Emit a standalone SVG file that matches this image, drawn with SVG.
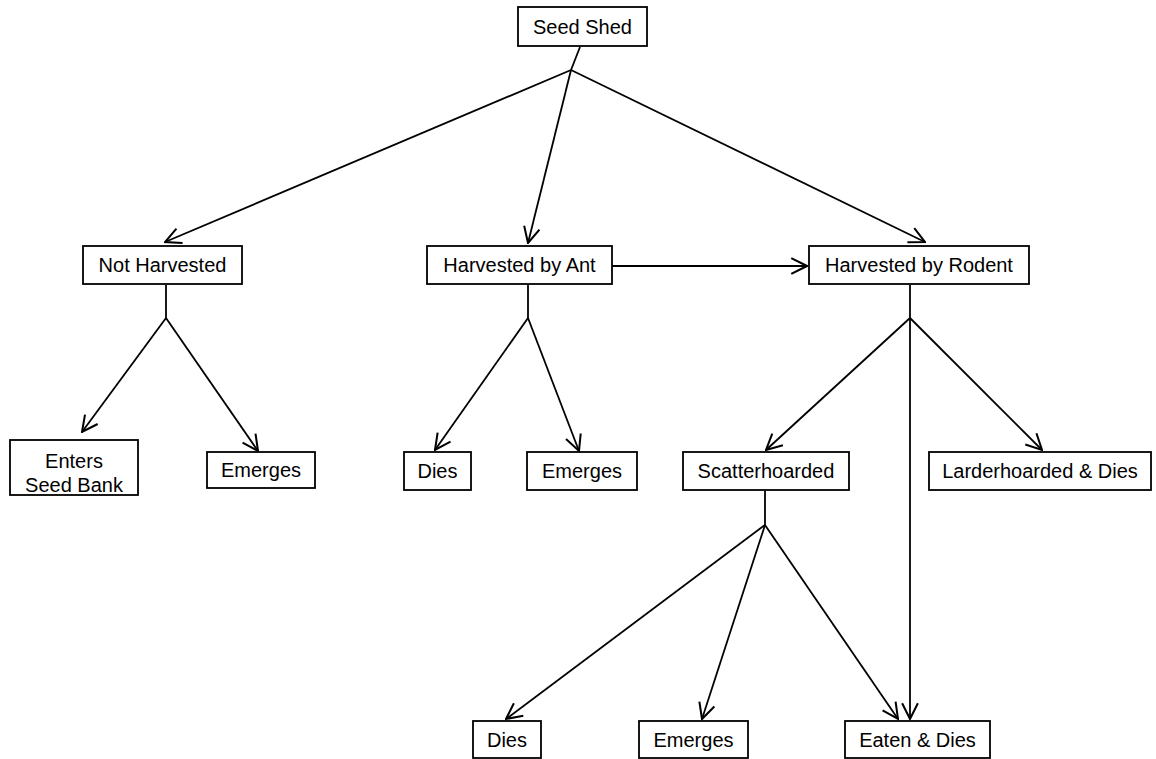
<svg xmlns="http://www.w3.org/2000/svg" width="1156" height="759" viewBox="0 0 1156 759">
<defs>
<marker id="arr" markerUnits="userSpaceOnUse" markerWidth="18" markerHeight="18" viewBox="0 0 16 16" refX="15" refY="8" orient="auto">
<path d="M1,1 L15,8 L1,15" fill="none" stroke="#000" stroke-width="1.8"/>
</marker>
<style>
.box{fill:#fff;stroke:#000;stroke-width:1.8}
.t{font-family:"Liberation Sans",Arial,sans-serif;font-size:20px;fill:#000;text-anchor:middle}
.c{stroke:#000;stroke-width:1.8;fill:none}
.a{marker-end:url(#arr)}
</style>
</defs>
<rect width="1156" height="759" fill="#fff"/>
<g id="connectors">
<line class="c" x1="580" y1="47" x2="571" y2="70"/>
<line class="c a" x1="571" y1="70" x2="165" y2="242"/>
<line class="c a" x1="571" y1="70" x2="528" y2="243"/>
<line class="c a" x1="571" y1="70" x2="925" y2="242"/>
<line class="c a" x1="612" y1="266" x2="807" y2="266"/>
<line class="c" x1="166" y1="285" x2="166" y2="318"/>
<line class="c a" x1="166" y1="318" x2="82" y2="432"/>
<line class="c a" x1="166" y1="318" x2="258" y2="451"/>
<line class="c" x1="528" y1="284" x2="528" y2="318"/>
<line class="c a" x1="528" y1="318" x2="435" y2="450"/>
<line class="c a" x1="528" y1="318" x2="579" y2="451"/>
<line class="c" x1="910" y1="285" x2="910" y2="318"/>
<line class="c a" x1="910" y1="318" x2="766" y2="450"/>
<line class="c a" x1="910" y1="318" x2="1042" y2="450"/>
<line class="c a" x1="910" y1="318" x2="910" y2="719"/>
<line class="c" x1="765" y1="491" x2="765" y2="525"/>
<line class="c a" x1="765" y1="525" x2="506" y2="719"/>
<line class="c a" x1="765" y1="525" x2="702" y2="719"/>
<line class="c a" x1="765" y1="525" x2="898" y2="719"/>
</g>
<g id="seed-shed"><rect class="box" x="518" y="7" width="129" height="39"/><text class="t" x="582.5" y="34">Seed Shed</text></g>
<g id="not-harvested"><rect class="box" x="83" y="246" width="159" height="38"/><text class="t" x="162.5" y="272">Not Harvested</text></g>
<g id="harvested-ant"><rect class="box" x="427" y="246" width="185" height="38"/><text class="t" x="519.5" y="272">Harvested by Ant</text></g>
<g id="harvested-rodent"><rect class="box" x="809" y="246" width="220" height="38"/><text class="t" x="919" y="272">Harvested by Rodent</text></g>
<g id="enters-seed-bank"><rect class="box" x="10" y="440" width="128" height="55"/><text class="t" x="74" y="468">Enters</text><text class="t" x="74" y="492">Seed Bank</text></g>
<g id="emerges-1"><rect class="box" x="207" y="452" width="108" height="36"/><text class="t" x="261" y="477">Emerges</text></g>
<g id="dies-1"><rect class="box" x="404" y="452" width="67" height="38"/><text class="t" x="437.5" y="478">Dies</text></g>
<g id="emerges-2"><rect class="box" x="527" y="452" width="110" height="38"/><text class="t" x="582" y="478">Emerges</text></g>
<g id="scatterhoarded"><rect class="box" x="683" y="452" width="166" height="38"/><text class="t" x="766" y="478">Scatterhoarded</text></g>
<g id="larderhoarded"><rect class="box" x="929" y="452" width="222" height="38"/><text class="t" x="1040" y="478">Larderhoarded &amp; Dies</text></g>
<g id="dies-2"><rect class="box" x="473" y="721" width="68" height="37"/><text class="t" x="507" y="747">Dies</text></g>
<g id="emerges-3"><rect class="box" x="639" y="721" width="109" height="37"/><text class="t" x="693.5" y="747">Emerges</text></g>
<g id="eaten-dies"><rect class="box" x="845" y="721" width="145" height="37"/><text class="t" x="917.5" y="747">Eaten &amp; Dies</text></g>
</svg>
